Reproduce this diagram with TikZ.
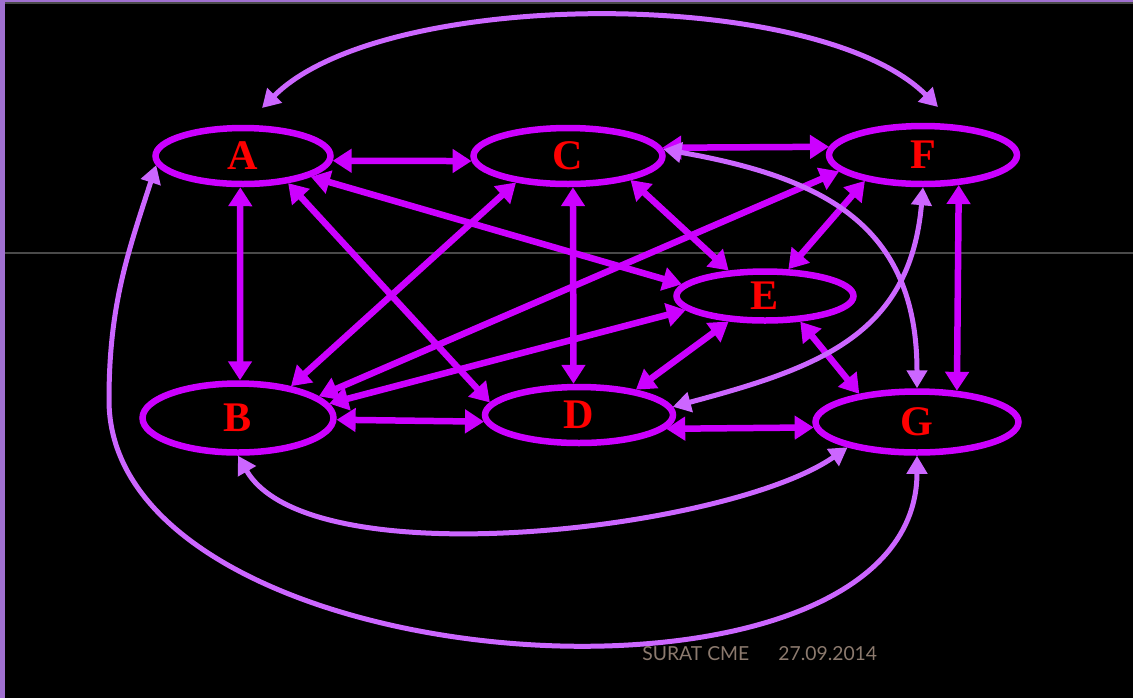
\documentclass[tikz,border=0pt]{standalone}
\usepackage{fontspec}
\setmainfont{Liberation Serif}
\newfontfamily\footfont{Lato}
\usepackage{xcolor}
\usetikzlibrary{calc,positioning,shapes.geometric,arrows.meta}
\definecolor{nodeviolet}{HTML}{CC00FF}
\definecolor{linkviolet}{HTML}{CC66FF}
\definecolor{framelilac}{HTML}{A070D0}
\definecolor{guidegray}{HTML}{4A4A4A}
\definecolor{footbrown}{HTML}{8C7A6E}

\begin{document}
\begin{tikzpicture}[
  x=0.02cm, y=-0.02cm,
  factor/.style={
    ellipse, draw=nodeviolet, line width=0.13cm, inner sep=0pt,
    text=red, font=\fontsize{24}{24}\selectfont\bfseries,
  },
  straightlink/.style={
    draw=nodeviolet, line width=0.13cm,
    {Triangle[length=0.38cm,width=0.46cm]}-{Triangle[length=0.38cm,width=0.46cm]},
  },
  curvelink/.style={
    draw=linkviolet, line width=0.1cm,
    {Triangle[length=0.36cm,width=0.4cm]}-{Triangle[length=0.36cm,width=0.4cm]},
  },
  footer/.style={text=footbrown, font=\footfont\fontsize{11}{13}\selectfont, inner sep=0pt, anchor=base west},
]

% slide background and frame
\useasboundingbox (0,0) rectangle (1133,698);
\fill[black] (0,0) rectangle (1133,698);
\fill[framelilac] (0,0) rectangle (5,698);
\fill[framelilac] (0,0) rectangle (1133,2);
\draw[guidegray, line width=0.03cm] (5,3) -- (1133,3);
\draw[guidegray, line width=0.04cm] (5,253) -- (1133,253);

% factors
\node[factor, minimum width=3.5cm, minimum height=1.12cm] (A) at (243,156) {A};
\node[factor, minimum width=3.78cm, minimum height=1.12cm] (C) at (568,156) {C};
\node[factor, minimum width=3.76cm, minimum height=1.16cm] (F) at (923,155) {F};
\node[factor, minimum width=3.54cm, minimum height=0.98cm] (E) at (765,296) {E};
\node[factor, minimum width=3.82cm, minimum height=1.38cm] (B) at (238,418) {B};
\node[factor, minimum width=3.76cm, minimum height=1.12cm] (D) at (579,415) {D};
\node[factor, minimum width=4.06cm, minimum height=1.22cm] (G) at (917,422) {G};

% straight links
\draw[straightlink] (A.-3) -- (C.183);
\draw[straightlink] (A.-95) -- (B.87);
\draw[straightlink] (A.-17) -- (E.172);
\draw[straightlink] (A.-31) -- (D.172);
\draw[straightlink] (C.207) -- (B.31);
\draw[straightlink] (C.-81) -- (D.100);
\draw[straightlink] (C.5) -- (F.175);
\draw[straightlink] (C.-21) -- (E.145);
\draw[straightlink] (F.191) -- (B.15);
\draw[straightlink] (F.204) -- (E.49);
\draw[straightlink] (F.-40) -- (G.38);
\draw[straightlink] (E.190) -- (B.9);
\draw[straightlink] (E.215) -- (D.24);
\draw[straightlink] (E.-36) -- (G.154);
\draw[straightlink] (B.-1) -- (D.184);
\draw[straightlink] (D.-9) -- (G.183);

% curved links
\coordinate (arcA) at (262,108);
\coordinate (arcF) at (938,107);
\coordinate (loopL) at (109,400);
\draw[curvelink] (arcA) to[out=45,in=135,looseness=0.65] (arcF);
\draw[curvelink] (C.4) to[out=-10,in=90,looseness=1.2] (G.north);
\draw[curvelink] (F.south) to[out=-95,in=15,looseness=1.15] (D.5);
\draw[curvelink] (B.south) to[out=-60,in=-145,looseness=0.6] (G.200);
\draw[curvelink] (A.186) to[out=-108,in=90] (loopL) to[out=-90,in=-90,looseness=0.9] (G.south);

% footer
\node[footer] (cme) at (642,660) {SURAT CME};
\node[footer] (date) at (778,660) {27.09.2014};

\end{tikzpicture}
\end{document}
